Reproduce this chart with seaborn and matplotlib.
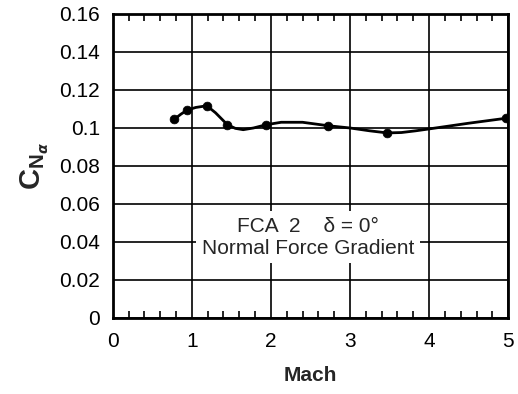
import matplotlib
matplotlib.use("Agg")
import matplotlib.pyplot as plt
import seaborn as sns
import pandas as pd
from matplotlib.ticker import MultipleLocator

# Data
mach_pts = [0.78, 0.94, 1.19, 1.45, 1.94, 2.72, 3.47, 4.97]
cna_pts = [0.1046, 0.1094, 0.1117, 0.1017, 0.1017, 0.1012, 0.0971, 0.1051]

mach_curve = [0.78, 0.86, 0.94, 1.05, 1.19, 1.30, 1.45, 1.55, 1.65, 1.78, 1.94,
              2.13, 2.40, 2.72, 3.00, 3.25, 3.47, 3.65, 3.83, 4.00, 4.50, 4.97]
cna_curve = [0.1046, 0.1072, 0.1094, 0.1108, 0.1117, 0.1080, 0.1017, 0.0998, 0.0991,
             0.1000, 0.1017, 0.1030, 0.1030, 0.1012, 0.1000, 0.0985, 0.0974, 0.0976,
             0.0985, 0.0995, 0.1025, 0.1051]

x_ticks = [0, 1, 2, 3, 4, 5]
y_ticks = [0, 0.02, 0.04, 0.06, 0.08, 0.1, 0.12, 0.14, 0.16]
y_tick_labels = ["0", "0.02", "0.04", "0.06", "0.08", "0.1", "0.12", "0.14", "0.16"]

sns.set_style("white")
plt.rcParams['font.family'] = ['Liberation Sans', 'DejaVu Sans']
plt.rcParams['mathtext.fontset'] = 'custom'
plt.rcParams['mathtext.rm'] = 'Liberation Sans'
plt.rcParams['mathtext.bf'] = 'Liberation Sans:bold'
plt.rcParams['mathtext.it'] = 'Liberation Sans:italic'

fig = plt.figure(figsize=(5.18, 3.94), dpi=100)
ax = fig.add_axes([0.2176, 0.193, 0.7634, 0.7715])

df_curve = pd.DataFrame({"Mach": mach_curve, "CNa": cna_curve})
df_pts = pd.DataFrame({"Mach": mach_pts, "CNa": cna_pts})

sns.lineplot(data=df_curve, x="Mach", y="CNa", ax=ax, color="black", linewidth=2.0,
             sort=False, zorder=3)
sns.scatterplot(data=df_pts, x="Mach", y="CNa", ax=ax, color="black", s=40,
                edgecolor="black", zorder=4)

ax.set_xlim(0, 5)
ax.set_ylim(0, 0.16)
ax.set_xticks(x_ticks)
ax.set_xticklabels([str(t) for t in x_ticks])
ax.set_yticks(y_ticks)
ax.set_yticklabels(y_tick_labels)
ax.xaxis.set_minor_locator(MultipleLocator(0.2))

ax.grid(True, which="major", color="black", linewidth=1.2)
ax.set_axisbelow(True)
for s in ax.spines.values():
    s.set_color("black")
    s.set_linewidth(2.0)

ax.tick_params(axis="both", which="major", direction="in", length=0, labelsize=15,
               colors="black")
ax.tick_params(axis="x", which="major", pad=10)
ax.tick_params(axis="y", which="major", pad=9)
ax.tick_params(axis="x", which="minor", direction="in", length=5, width=1.2,
               top=True, bottom=True, color="black")

ax.set_xlabel("Mach", fontsize=15, fontweight="bold", labelpad=11)
ax.set_ylabel(r"$\mathbf{C}_{\mathbf{N}_{\boldsymbol{\alpha}}}$", fontsize=21, labelpad=6)

ax.text(2.47, 0.0425, "FCA  2    \u03b4 = 0\u00b0\nNormal Force Gradient",
        ha="center", va="center", fontsize=15, linespacing=1.2, zorder=5,
        bbox=dict(facecolor="white", edgecolor="none", pad=4))

fig.savefig("out.png", dpi=100)
